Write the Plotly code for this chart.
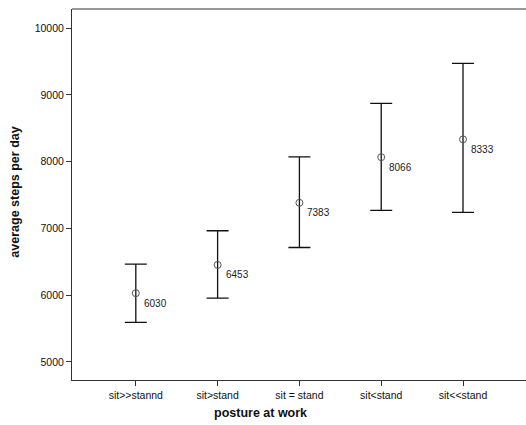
import plotly.graph_objects as go

categories = ["sit>>stannd", "sit>stand", "sit = stand", "sit<stand", "sit<<stand"]
means = [6030, 6453, 7383, 8066, 8333]
upper = [6466, 6965, 8070, 8872, 9472]
lower = [5594, 5955, 6714, 7271, 7240]
y_ticks = [5000, 6000, 7000, 8000, 9000, 10000]
y_tick_labels = [str(v) for v in y_ticks]

xpos = list(range(len(categories)))
err_plus = [u - m for u, m in zip(upper, means)]
err_minus = [m - l for m, l in zip(means, lower)]

fig = go.Figure()
fig.add_trace(go.Scatter(
    x=xpos, y=means, mode="markers",
    marker=dict(symbol="circle-open", size=7, color="#555555", line=dict(width=1)),
    error_y=dict(type="data", symmetric=False, array=err_plus, arrayminus=err_minus,
                 color="#111111", thickness=1.3, width=11),
    showlegend=False,
))

for x, m in zip(xpos, means):
    fig.add_annotation(x=x, y=m, text=str(m), showarrow=False, xanchor="left",
                       yanchor="middle", xshift=6, yshift=-10,
                       font=dict(family="Liberation Sans, Arial", size=10, color="#222222"))

# top frame line
fig.add_shape(type="line", xref="paper", yref="paper", x0=0, x1=1.02, y0=1, y1=1,
              line=dict(color="#333333", width=1))

# axis titles
fig.add_annotation(xref="paper", yref="paper", x=(260 - 72) / 454, y=-0.089,
                   text="<b>posture at work</b>", showarrow=False,
                   xanchor="center", yanchor="middle", font=dict(size=12.5, color="#111111"))
fig.add_annotation(xref="paper", yref="paper", x=(15 - 72) / 454, y=0.505,
                   text="<b>average steps per day</b>", showarrow=False, textangle=-90,
                   xanchor="center", yanchor="middle", font=dict(size=12.5, color="#111111"))

fig.update_layout(
    width=526, height=425,
    margin=dict(l=72, r=0, t=9, b=45, pad=0),
    paper_bgcolor="white", plot_bgcolor="white",
    font=dict(family="Liberation Sans, Arial", color="#111111"),
    xaxis=dict(
        range=[-0.78, 4.77], tickmode="array", tickvals=xpos, ticktext=categories,
        showline=True, linecolor="#333333", linewidth=1, mirror=False,
        ticks="outside", ticklen=5, tickcolor="#333333", showgrid=False, zeroline=False,
        tickfont=dict(size=10.5),
    ),
    yaxis=dict(
        range=[4730, 10285], tickmode="array", tickvals=y_ticks, ticktext=y_tick_labels,
        showline=True, linecolor="#333333", linewidth=1, mirror=False,
        ticks="outside", ticklen=5, tickcolor="#333333", showgrid=False, zeroline=False,
        tickfont=dict(size=10.5),
    ),
)

fig.write_html("out.html")
